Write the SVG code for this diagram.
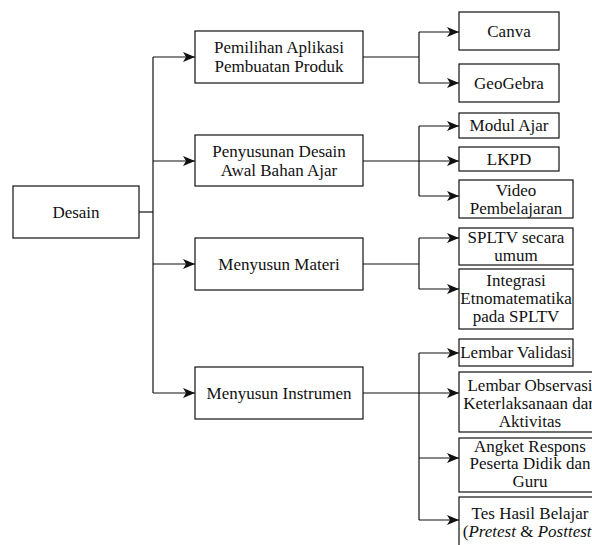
<svg xmlns="http://www.w3.org/2000/svg" width="592" height="545" viewBox="0 0 592 545">
<style>
.box{fill:#fff;stroke:#111;stroke-width:1.2}
.t{font-size:17px;fill:#111;text-anchor:middle}
.c{fill:none;stroke:#111;stroke-width:1.2}
.a{marker-end:url(#arr)}
</style>
<defs>
<marker id="arr" markerWidth="12" markerHeight="10" refX="12" refY="5" orient="auto" markerUnits="userSpaceOnUse">
<path d="M0,0 L12,5 L0,10 L3,5 Z" fill="#111"/>
</marker>
</defs>
<rect width="592" height="545" fill="#fff"/>
<g id="connectors">
<path class="c" d="M139,212 H153"/>
<path class="c" d="M153,57 V393"/>
<path class="c a" d="M153,57 H195"/>
<path class="c a" d="M153,161 H195"/>
<path class="c a" d="M153,264 H195"/>
<path class="c a" d="M153,393 H195"/>
<path class="c" d="M363,57 H419"/>
<path class="c" d="M419,32 V83"/>
<path class="c a" d="M419,32 H459"/>
<path class="c a" d="M419,83 H459"/>
<path class="c a" d="M363,161 H459"/>
<path class="c" d="M419,126 V196"/>
<path class="c a" d="M419,126 H459"/>
<path class="c a" d="M419,196 H459"/>
<path class="c" d="M363,264 H419"/>
<path class="c" d="M419,238 V289"/>
<path class="c a" d="M419,238 H459"/>
<path class="c a" d="M419,289 H459"/>
<path class="c a" d="M363,393 H459"/>
<path class="c" d="M419,353 V520"/>
<path class="c a" d="M419,353 H459"/>
<path class="c a" d="M419,458 H459"/>
<path class="c a" d="M419,520 H459"/>
</g>
<g font-family="Liberation Serif, Times New Roman, serif">
<g id="desain"><rect class="box" x="13" y="186" width="126" height="52"/><text class="t" x="76" y="217.5">Desain</text></g>
<g id="pemilihan"><rect class="box" x="195" y="31" width="168" height="52"/><text class="t" x="279" y="53">Pemilihan Aplikasi</text><text class="t" x="279" y="72">Pembuatan Produk</text></g>
<g id="penyusunan"><rect class="box" x="195" y="135" width="168" height="51"/><text class="t" x="279" y="156.5">Penyusunan Desain</text><text class="t" x="279" y="175.5">Awal Bahan Ajar</text></g>
<g id="materi"><rect class="box" x="195" y="238" width="168" height="52"/><text class="t" x="279" y="269.5">Menyusun Materi</text></g>
<g id="instrumen"><rect class="box" x="195" y="367" width="168" height="52"/><text class="t" x="279" y="398.5">Menyusun Instrumen</text></g>
<g id="canva"><rect class="box" x="459" y="12" width="100" height="38"/><text class="t" x="509" y="36.5">Canva</text></g>
<g id="geogebra"><rect class="box" x="459" y="64" width="100" height="38"/><text class="t" x="509" y="88.5">GeoGebra</text></g>
<g id="modul"><rect class="box" x="459" y="113" width="100" height="25"/><text class="t" x="509" y="130.5">Modul Ajar</text></g>
<g id="lkpd"><rect class="box" x="459" y="147" width="100" height="24"/><text class="t" x="509" y="164.5">LKPD</text></g>
<g id="video"><rect class="box" x="459" y="180" width="114" height="38"/><text class="t" x="516" y="195.5">Video</text><text class="t" x="516" y="213.5">Pembelajaran</text></g>
<g id="spltv"><rect class="box" x="459" y="228" width="114" height="37"/><text class="t" x="516" y="243">SPLTV secara</text><text class="t" x="516" y="261">umum</text></g>
<g id="integrasi"><rect class="box" x="459" y="269" width="114" height="60"/><text class="t" x="516" y="286">Integrasi</text><text class="t" x="516" y="304">Etnomatematika</text><text class="t" x="516" y="322">pada SPLTV</text></g>
<g id="validasi"><rect class="box" x="459" y="339" width="114" height="27"/><text class="t" x="516" y="358">Lembar Validasi</text></g>
<g id="observasi"><rect class="box" x="459" y="372" width="142" height="60"/><text class="t" x="530" y="391">Lembar Observasi</text><text class="t" x="530" y="409">Keterlaksanaan dan</text><text class="t" x="530" y="427">Aktivitas</text></g>
<g id="angket"><rect class="box" x="459" y="438" width="142" height="54"/><text class="t" x="530" y="451.5">Angket Respons</text><text class="t" x="530" y="469">Peserta Didik dan</text><text class="t" x="530" y="486.5">Guru</text></g>
<g id="tes"><rect class="box" x="459" y="497" width="142" height="53"/><text class="t" x="530" y="518.5">Tes Hasil Belajar</text><text class="t" x="530" y="536.5">(<tspan font-style="italic">Pretest</tspan> &amp; <tspan font-style="italic">Posttest</tspan>)</text></g>
</g>
</svg>
